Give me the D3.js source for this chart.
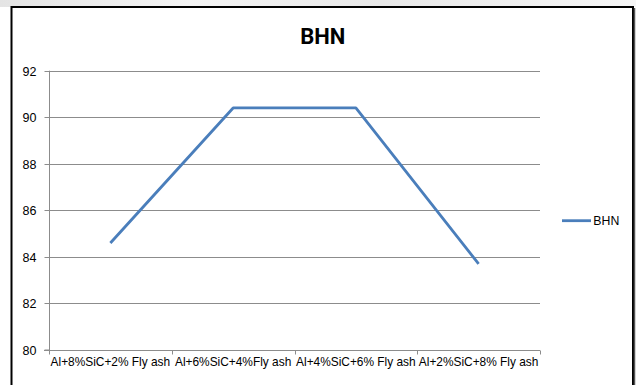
<!DOCTYPE html>
<html><head><meta charset="utf-8">
<script src="https://cdn.jsdelivr.net/npm/d3@7"></script>
<style>html,body{margin:0;padding:0;background:#fff;}svg{display:block;}</style>
</head><body>
<svg id="c" width="636" height="385"></svg>
<script>
const categories = ["Al+8%SiC+2% Fly ash", "Al+6%SiC+4%Fly ash", "Al+4%SiC+6% Fly ash", "Al+2%SiC+8% Fly ash"];
const bhnValues = [84.6, 90.4, 90.4, 83.7];
const yTicks = [80, 82, 84, 86, 88, 90, 92];
const seriesName = "BHN";
const chartTitle = "BHN";

const svg = d3.select("#c");
const font = "'Liberation Sans', Arial, sans-serif";

// page background (top strip of scanned page)
const defs = svg.append("defs");
const g1 = defs.append("linearGradient").attr("id","bg").attr("x1",0).attr("x2",1).attr("y1",0).attr("y2",0);
g1.append("stop").attr("offset","0%").attr("stop-color","#e4e4e4");
g1.append("stop").attr("offset","30%").attr("stop-color","#f4f4f4");
g1.append("stop").attr("offset","60%").attr("stop-color","#e8e8e8");
g1.append("stop").attr("offset","100%").attr("stop-color","#f6f6f6");
svg.append("rect").attr("x",0).attr("y",0).attr("width",636).attr("height",7).attr("fill","url(#bg)");

// chart frame
svg.append("rect").attr("x",11.5).attr("y",7).attr("width",621.5).attr("height",390)
  .attr("fill","#fff").attr("stroke","#000").attr("stroke-width",2);
svg.append("line").attr("x1",634.5).attr("x2",634.5).attr("y1",8).attr("y2",385)
  .attr("stroke","#555").attr("stroke-width",1.5);

const x = d3.scaleBand().domain(categories).range([49, 540]).padding(0);
const y = d3.scaleLinear().domain([80, 92]).range([350, 70.7]);

// gridlines
svg.append("g").selectAll("line").data(yTicks.filter(t => t > 80)).join("line")
  .attr("x1", 49).attr("x2", 540)
  .attr("y1", d => Math.round(y(d)) + 0.5).attr("y2", d => Math.round(y(d)) + 0.5)
  .attr("stroke", "#8c8c8c").attr("stroke-width", 1);

// y axis
const yAxis = d3.axisLeft(y).tickValues(yTicks).tickSize(5).tickPadding(8).tickFormat(d3.format("d"));
const ya = svg.append("g").attr("transform","translate(49.5,0)").call(yAxis);
ya.select(".domain").attr("stroke","#8c8c8c").attr("d", `M-5,${y(80)}H0V${y(92)}`);
ya.selectAll(".tick line").attr("stroke","#8c8c8c");
ya.selectAll(".tick").attr("transform", d => `translate(0,${Math.round(y(d)) + 0.5})`);
ya.selectAll("text").attr("font-family", font).attr("font-size", "12.5px").attr("fill","#000").attr("dy","0.35em");

// x axis
const xa = svg.append("g").attr("transform", `translate(0,${Math.round(y(80)) + 0.5})`);
xa.append("line").attr("x1", 44).attr("x2", 540).attr("stroke","#8c8c8c");
const bounds = categories.map(c => x(c)).concat([x.range()[1]]);
xa.selectAll("line.tk").data(bounds).join("line").attr("class","tk")
  .attr("x1", d => Math.round(d) + 0.5).attr("x2", d => Math.round(d) + 0.5)
  .attr("y1", 0).attr("y2", 4).attr("stroke","#8c8c8c");
xa.selectAll("text").data(categories).join("text")
  .attr("x", d => x(d) + x.bandwidth() / 2).attr("y", 15)
  .attr("text-anchor","middle").attr("font-family", font).attr("font-size","11.9px").attr("fill","#000")
  .text(d => d);

// line series
const line = d3.line().x((d, i) => x(categories[i]) + x.bandwidth() / 2).y(d => y(d));
svg.append("path").datum(bhnValues).attr("d", line)
  .attr("fill","none").attr("stroke","#4a7ebb").attr("stroke-width",2.8).attr("stroke-linejoin","round");

// title
svg.append("text").attr("x", 322.8).attr("y", 44.3).attr("text-anchor","middle")
  .attr("font-family", "Roboto, 'Liberation Sans', sans-serif").attr("font-weight","bold").attr("font-size","22px")
  .attr("fill","#000").text(chartTitle);

// legend
svg.append("line").attr("x1", 562).attr("x2", 591).attr("y1", 220.7).attr("y2", 220.7)
  .attr("stroke","#4a7ebb").attr("stroke-width",2.8);
svg.append("text").attr("x", 593.3).attr("y", 225).attr("font-family", font).attr("font-size","12.3px")
  .attr("fill","#000").text(seriesName);
</script>
</body></html>
